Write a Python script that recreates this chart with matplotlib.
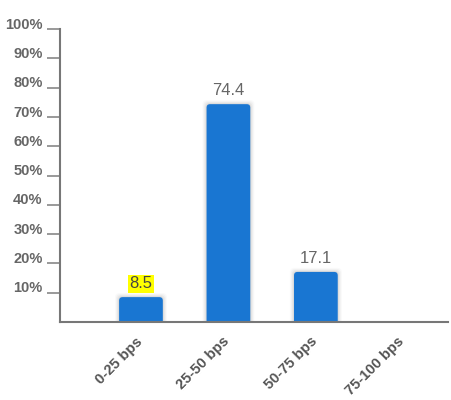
import matplotlib.pyplot as plt
from matplotlib.patches import FancyBboxPatch
from matplotlib.transforms import ScaledTranslation

categories = ['0-25 bps', '25-50 bps', '50-75 bps', '75-100 bps']
values = [8.5, 74.4, 17.1, 0.0]
labels = ['8.5', '74.4', '17.1', '']
yticks = [10, 20, 30, 40, 50, 60, 70, 80, 90, 100]
yticklabels = ['%d%%' % t for t in yticks]

plt.rcParams['font.family'] = ['Liberation Sans', 'DejaVu Sans']

fig = plt.figure(figsize=(4.51, 4.0), dpi=100)
ax = fig.add_axes([0.133, 0.195, 0.86, 0.732])

blue = '#1976d2'
width = 0.5
# pixel scale -> data aspect for rounded corners
aspect = (100 / 292.5) / (4.435 / 388)

for i, v in enumerate(values):
    if v <= 0:
        continue
    # soft shadow
    for k, a in enumerate([0.05, 0.04, 0.03, 0.02]):
        dx = 0.012 * (k + 1)
        dy = 0.35 * (k + 1)
        sh = FancyBboxPatch((i - width / 2 - dx, -5), width + 2 * dx, v + 5 + dy,
                            boxstyle='round,pad=0,rounding_size=0.05',
                            mutation_aspect=aspect, facecolor='black',
                            edgecolor='none', alpha=a, zorder=1)
        ax.add_patch(sh)
    p = FancyBboxPatch((i - width / 2, -5), width, v + 5,
                       boxstyle='round,pad=0,rounding_size=0.04',
                       mutation_aspect=aspect, facecolor=blue,
                       edgecolor='none', zorder=2)
    ax.add_patch(p)
    if i == 0:
        ax.text(i, v + 4.5, labels[i], ha='center', va='center', fontsize=12,
                color='#444444', zorder=3,
                bbox=dict(facecolor='#ffff00', edgecolor='none', pad=1.0))
    else:
        ax.text(i, v + 4.5, labels[i], ha='center', va='center', fontsize=12,
                color='#666666', zorder=3)

ax.set_xlim(-0.926, 3.509)
ax.set_ylim(0, 100)

ax.set_yticks(yticks)
ax.set_yticklabels(yticklabels, fontsize=10.5, fontweight='bold', color='#666666')
ax.tick_params(axis='y', length=9.5, width=1.2, color='#888888', pad=3)
off = ScaledTranslation(0, 6 / 100, fig.dpi_scale_trans)
for lab in ax.get_yticklabels():
    lab.set_transform(lab.get_transform() + off)

ax.set_xticks(range(len(categories)))
ax.set_xticklabels(categories, rotation=45, ha='right', rotation_mode='anchor',
                   fontsize=10.5, fontweight='bold', color='#555555')
ax.tick_params(axis='x', length=0, pad=9)
offx = ScaledTranslation(-6 / 100, 0, fig.dpi_scale_trans)
for lab in ax.get_xticklabels():
    lab.set_transform(lab.get_transform() + offx)

for s in ['top', 'right']:
    ax.spines[s].set_visible(False)
for s in ['left', 'bottom']:
    ax.spines[s].set_color('#777777')
    ax.spines[s].set_linewidth(1.5)
ax.spines['bottom'].set_zorder(5)

fig.savefig('out.png', dpi=100)
